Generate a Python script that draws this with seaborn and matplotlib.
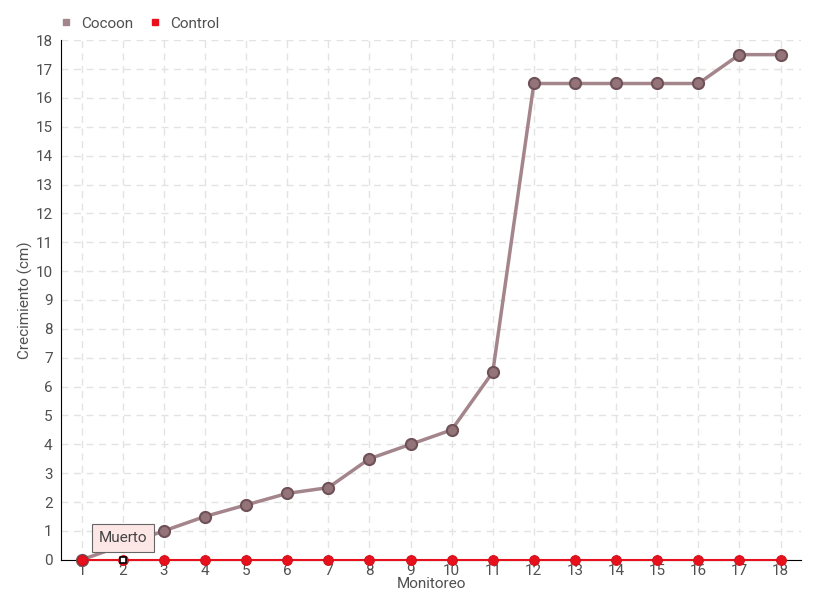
import numpy as np
import pandas as pd
import seaborn as sns
import matplotlib.pyplot as plt

monitoreo = list(range(1, 19))
cocoon = [0, 0.5, 1, 1.5, 1.9, 2.3, 2.5, 3.5, 4, 4.5, 6.5, 16.5, 16.5, 16.5, 16.5, 16.5, 17.5, 17.5]
control = [0] * 18
yticks = list(range(0, 19))

df = pd.DataFrame({"Monitoreo": monitoreo * 2,
                   "Crecimiento": cocoon + control,
                   "serie": ["Cocoon"] * 18 + ["Control"] * 18})

sns.set_style("white")
plt.rcParams['font.family'] = ['Roboto', 'DejaVu Sans']
txt = "#505050"

fig, ax = plt.subplots(figsize=(8.2, 6.0), dpi=100)
fig.subplots_adjust(left=0.0744, right=0.977, top=0.933, bottom=0.067)

pal = {"Cocoon": "#a3858b", "Control": "#e8101c"}
d1 = df[df.serie == "Cocoon"]
d2 = df[df.serie == "Control"]
sns.lineplot(data=d1, x="Monitoreo", y="Crecimiento", color=pal["Cocoon"],
             lw=2.5, marker="o", markersize=8, markeredgecolor="#6e5258",
             markeredgewidth=1.5, markerfacecolor="#947379", ax=ax, zorder=4,
             clip_on=False)
sns.lineplot(data=d2, x="Monitoreo", y="Crecimiento", color=pal["Control"],
             lw=1.5, marker="o", markersize=7, markeredgecolor="#d0101a",
             markerfacecolor="#e8101c", ax=ax, zorder=5, clip_on=False)
# dead marker at point 2 of control
ax.scatter([monitoreo[1]], [control[1]], marker="s", s=22, facecolor="white",
           edgecolor="black", linewidth=1.2, zorder=6, clip_on=False)

ax.annotate("Muerto", xy=(monitoreo[1], control[1]), xytext=(0, 15.5),
            textcoords="offset points", ha="center", va="center",
            fontsize=11, color="#444444", zorder=7,
            bbox=dict(boxstyle="square,pad=0.45", fc="#fde6e6", ec="#666666", lw=0.8))

ax.set_xlim(0.5, 18.5)
ax.set_ylim(0, 18)
ax.set_xticks(monitoreo)
ax.set_yticks(yticks)
ax.tick_params(axis="both", labelsize=11, labelcolor=txt, length=4, width=1,
               color="black", pad=2)
ax.tick_params(axis="x", length=0, pad=3)
ax.grid(True, ls=(0, (5, 4)), color="#e3e3e3", lw=1)
for s in ["top", "right"]:
    ax.spines[s].set_visible(False)
ax.spines["left"].set_color("black")
ax.spines["bottom"].set_color("black")
ax.set_xlabel("Monitoreo", fontsize=11, color=txt, labelpad=-1)
ax.set_ylabel("Crecimiento (cm)", fontsize=11, color=txt, labelpad=2)

h = [plt.Line2D([], [], marker="s", ls="", color=pal["Cocoon"], markersize=5),
     plt.Line2D([], [], marker="s", ls="", color=pal["Control"], markersize=5)]
fig.legend(h, ["Cocoon", "Control"], loc="upper left", bbox_to_anchor=(0.045, 0.995),
           ncol=2, frameon=False, fontsize=11, handletextpad=0.0,
           columnspacing=0.4, labelcolor=txt)

fig.savefig("out.png")
